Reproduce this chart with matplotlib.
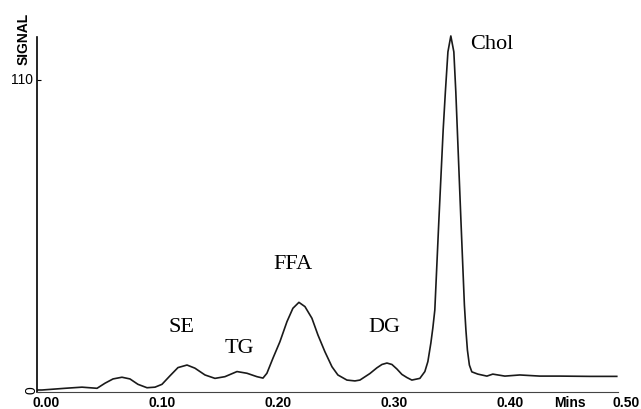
import matplotlib
matplotlib.use("Agg")
import matplotlib.pyplot as plt
import numpy as np

# trace (time in mins, signal)
mins = [-0.0069, -0.0034, 0.0164, 0.0310, 0.0440, 0.0509, 0.0578, 0.0655,
        0.0724, 0.0793, 0.0871, 0.0940, 0.1000, 0.1069, 0.1138, 0.1216,
        0.1284, 0.1371, 0.1457, 0.1543, 0.1647, 0.1733, 0.1819, 0.1871,
        0.1905, 0.1957, 0.2017, 0.2078, 0.2129, 0.2181, 0.2233, 0.2293,
        0.2345, 0.2405, 0.2466, 0.2517, 0.2595, 0.2664, 0.2707, 0.2793,
        0.2853, 0.2897, 0.2940, 0.2983, 0.3026, 0.3069, 0.3112, 0.3155,
        0.3224, 0.3267, 0.3293, 0.3319, 0.3336, 0.3353, 0.3388, 0.3425,
        0.3444, 0.3466, 0.3491, 0.3517, 0.3534, 0.3547, 0.3578, 0.3608,
        0.3621, 0.3634, 0.3651, 0.3672, 0.3724, 0.3802, 0.3853, 0.3957,
        0.4086, 0.4259, 0.4431, 0.4690, 0.4922]
signal = [0.7, 0.7, 1.3, 1.7, 1.3, 3.1, 4.6, 5.2,
          4.6, 2.7, 1.5, 1.7, 2.7, 5.7, 8.6, 9.5,
          8.4, 6.0, 4.8, 5.4, 7.2, 6.6, 5.4, 4.9,
          6.6, 11.9, 17.7, 24.8, 29.5, 31.6, 30.1, 26.0,
          20.1, 14.2, 8.9, 6.0, 4.2, 3.9, 4.2, 6.5,
          8.5, 9.7, 10.2, 9.7, 8.1, 6.2, 5.1, 4.2,
          4.8, 7.2, 10.7, 17.3, 22.6, 28.9, 60.6, 92.4,
          105.8, 119.9, 125.5, 119.9, 105.8, 92.4, 60.6, 30.7,
          21.9, 14.8, 9.5, 7.1, 6.3, 5.6, 6.3, 5.6,
          6.0, 5.6, 5.6, 5.5, 5.5]

peak_names = ["SE", "TG", "FFA", "DG", "Chol"]
x_ticks = [0.0, 0.1, 0.2, 0.3, 0.4, 0.5]
x_tick_labels = ["0.00", "0.10", "0.20", "0.30", "0.40", "0.50"]
y_ticks = [0, 110]

fig = plt.figure(figsize=(6.41, 4.09), dpi=100)
ax = fig.add_axes([0.0573, 0.0416, 0.919, 0.867])

ax.plot(mins, signal, color="#1a1a1a", lw=1.2, clip_on=False,
        solid_joinstyle="round")

ax.set_xlim(-0.008, 0.50)
ax.set_ylim(0, 125)

for s in ["top", "right"]:
    ax.spines[s].set_visible(False)
ax.spines["bottom"].set_bounds(-0.008, 0.493)
ax.spines["bottom"].set_color("#444444")
ax.spines["left"].set_linewidth(1.2)

ax.set_xticks(x_ticks)
ax.set_xticklabels(x_tick_labels, fontfamily="Liberation Sans",
                   fontweight="bold", fontsize=10)
ax.tick_params(axis="x", length=0, pad=3)

ax.set_yticks(y_ticks)
ax.set_yticklabels([])
ax.tick_params(axis="y", length=3, direction="in")
ax.text(-0.0125, 0.6, "0", rotation=90, ha="center", va="center",
        fontfamily="Liberation Sans", fontsize=10)
ax.text(-0.0115, 110, "110", ha="right", va="center",
        fontfamily="Liberation Sans", fontsize=10)
ax.text(-0.019, 124.5, "SIGNAL", rotation=90, ha="center", va="center",
        fontfamily="Liberation Sans", fontweight="bold", fontsize=10)
ax.annotate("Mins", xy=(0.452, 0), xycoords=("data", "axes fraction"),
            xytext=(0, -3), textcoords="offset points", ha="center", va="top",
            fontfamily="Liberation Sans", fontweight="bold", fontsize=10)

# peak labels
label_pos = [(0.1172, 22.6), (0.1664, 15.2), (0.2129, 44.8),
             (0.2922, 22.6), (0.3845, 122.4)]
for name, (lx, ly) in zip(peak_names, label_pos):
    ax.text(lx, ly, name, ha="center", va="center",
            fontfamily="Liberation Serif", fontsize=16)

fig.savefig("out.png", dpi=100)
